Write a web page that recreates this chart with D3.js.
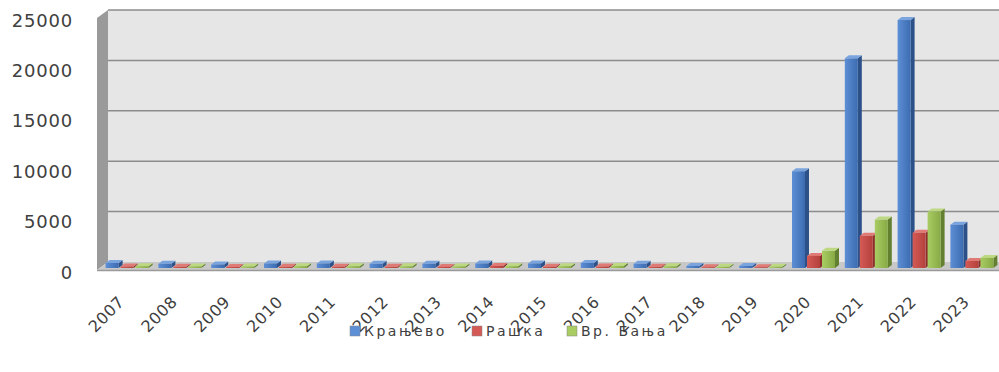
<!DOCTYPE html>
<html>
<head>
<meta charset="utf-8">
<script src="https://cdn.jsdelivr.net/npm/d3@7"></script>
<style>
  body { margin: 0; background: #fff; }
  svg { display: block; font-family: "DejaVu Sans", Verdana, sans-serif; }
  .tick-label { fill: #404040; font-size: 18px; letter-spacing: 0.8px; }
  .x-label { fill: #404040; font-size: 16px; letter-spacing: 0.5px; }
  .legend-text { fill: #404040; font-size: 14px; letter-spacing: 2.5px; }
</style>
</head>
<body>
<svg width="999" height="372"></svg>
<script>
const years = ['2007','2008','2009','2010','2011','2012','2013','2014','2015','2016','2017','2018','2019','2020','2021','2022','2023'];
const kraljevo = [500, 420, 350, 450, 450, 420, 420, 450, 450, 500, 420, 200, 200, 9600, 20800, 24600, 4300];
const raska    = [150, 120, 100, 120, 130, 120, 110, 200, 130, 150, 120, 80, 80, 1200, 3200, 3500, 700];
const vrbanja  = [180, 160, 150, 180, 180, 170, 160, 180, 180, 200, 170, 120, 130, 1700, 4800, 5600, 1000];
const seriesNames = ['Крањево', 'Рашка', 'Вр. Бања'];
const yTicks = [0, 5000, 10000, 15000, 20000, 25000];

const colors = {
  'Крањево': { front: ['#5d8fd6', '#3c6bb0'], side: '#2c5189', top: '#7aa4de' },
  'Рашка':   { front: ['#d45a55', '#b4413d'], side: '#8a2f2c', top: '#e07a75' },
  'Вр. Бања': { front: ['#a9cc63', '#87aa45'], side: '#637f30', top: '#bcd982' }
};

const svg = d3.select('svg');
const defs = svg.append('defs');

// plot planes
const left = 97, right = 999;
const wallDx = 11, wallDy = -8;      // depth of floor / side wall
const barDx = 4, barDy = -3;         // depth of each column
const zDx = 3;                       // columns sit a little behind front plane

const yFront = d3.scaleLinear().domain([0, 25000]).range([270, 18]);
const yBar = d3.scaleLinear().domain([0, 25000]).range([268, 16]);

const x0 = d3.scaleBand().domain(years).range([left, left + 17 * 52.8]);
const x1 = d3.scaleBand().domain(seriesNames).range([5.6, 50.6]);

const g = svg.append('g');

// back wall
g.append('rect')
  .attr('x', left + wallDx).attr('y', yFront(25000) + wallDy)
  .attr('width', right - left - wallDx)
  .attr('height', yFront(0) - yFront(25000))
  .attr('fill', '#e6e6e6');

// side wall
g.append('polygon')
  .attr('points', [
    [left, yFront(25000)], [left + wallDx, yFront(25000) + wallDy],
    [left + wallDx, yFront(0) + wallDy], [left, yFront(0)]
  ].join(' '))
  .attr('fill', '#9a9a9a');

// floor
g.append('polygon')
  .attr('points', [
    [left, yFront(0)], [left + wallDx, yFront(0) + wallDy],
    [right, yFront(0) + wallDy], [right, yFront(0)]
  ].join(' '))
  .attr('fill', '#c8c8c8');
g.append('line')
  .attr('x1', left).attr('x2', right)
  .attr('y1', yFront(0) + 0.5).attr('y2', yFront(0) + 0.5)
  .attr('stroke', '#9a9a9a').attr('stroke-width', 1.5);

// gridlines on back wall
g.selectAll('.grid')
  .data(yTicks.filter(d => d > 0))
  .enter().append('line')
  .attr('class', 'grid')
  .attr('x1', left + wallDx).attr('x2', right)
  .attr('y1', d => yFront(d) + wallDy).attr('y2', d => yFront(d) + wallDy)
  .attr('stroke', '#8c8c8c').attr('stroke-width', 1.5);

// y labels
svg.selectAll('.ylab')
  .data(yTicks)
  .enter().append('text')
  .attr('class', 'tick-label')
  .attr('x', 73)
  .attr('y', d => yFront(d) + 2)
  .attr('text-anchor', 'end')
  .attr('dominant-baseline', 'central')
  .text(d => d);

// gradients
seriesNames.forEach((s, i) => {
  const grad = defs.append('linearGradient').attr('id', 'grad' + i)
    .attr('x1', 0).attr('x2', 1).attr('y1', 0).attr('y2', 0);
  grad.append('stop').attr('offset', '0%').attr('stop-color', colors[s].front[0]);
  grad.append('stop').attr('offset', '100%').attr('stop-color', colors[s].front[1]);
});

const seriesData = [kraljevo, raska, vrbanja];
const barW = 13;

const cats = g.selectAll('.cat')
  .data(years)
  .enter().append('g')
  .attr('class', 'cat');

cats.each(function(year, ci) {
  const cg = d3.select(this);
  seriesNames.forEach((s, si) => {
    const v = seriesData[si][ci];
    const x = x0(year) + x1(s) + zDx;
    const y = yBar(v);
    const h = yBar(0) - y;
    const c = colors[s];
    // side
    cg.append('polygon')
      .attr('points', [[x + barW, y], [x + barW + barDx, y + barDy], [x + barW + barDx, y + h + barDy], [x + barW, y + h]].join(' '))
      .attr('fill', c.side);
    // top
    cg.append('polygon')
      .attr('points', [[x, y], [x + barDx, y + barDy], [x + barW + barDx, y + barDy], [x + barW, y]].join(' '))
      .attr('fill', c.top);
    // front
    cg.append('rect')
      .attr('x', x).attr('y', y)
      .attr('width', barW).attr('height', h)
      .attr('fill', 'url(#grad' + si + ')');
  });
});

// x labels
svg.selectAll('.xlab')
  .data(years)
  .enter().append('text')
  .attr('class', 'x-label')
  .attr('text-anchor', 'end')
  .attr('transform', d => `translate(${x0(d) + x0.bandwidth() / 2 + 2},${303}) rotate(-45)`)
  .text(d => d);

// legend
const legendX = [350, 472, 567];
const legend = svg.selectAll('.legend')
  .data(seriesNames)
  .enter().append('g')
  .attr('class', 'legend')
  .attr('transform', (d, i) => `translate(${legendX[i]},326)`);

legend.append('rect')
  .attr('width', 10).attr('height', 10)
  .attr('fill', (d, i) => colors[d].front[0])
  .attr('stroke', '#888').attr('stroke-width', 0.5);

legend.append('text')
  .attr('class', 'legend-text')
  .attr('x', 14).attr('y', 5)
  .attr('dominant-baseline', 'central')
  .text(d => d);
</script>
</body>
</html>
